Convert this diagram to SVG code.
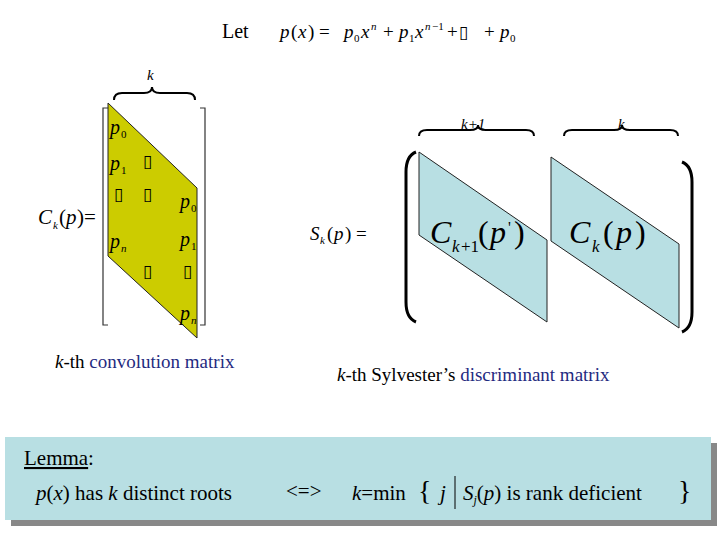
<svg xmlns="http://www.w3.org/2000/svg" width="720" height="540" viewBox="0 0 720 540">
<style>
text{font-family:"Liberation Serif",serif;fill:#000}
.i{font-style:italic}
.br{fill:none;stroke:#000;stroke-width:2}
.bk{fill:none;stroke:#333;stroke-width:1.2}
.b{fill:#000;font-size:14px}
</style>
<rect width="720" height="540" fill="#fff"/>
<g id="title">
<text x="222" y="38" font-size="20">Let</text>
<text x="280" y="38" font-size="19" class="i">p</text><text x="291" y="38" font-size="19">(</text><text x="298" y="38" font-size="19" class="i">x</text><text x="308" y="38" font-size="19">) = </text>
<text x="344" y="38" font-size="19" class="i">p</text><text x="354" y="42" font-size="11">0</text><text x="361" y="38" font-size="19" class="i">x</text><text x="371" y="30" font-size="11" class="i">n</text>
<text x="383" y="38" font-size="19">+ </text><text x="399" y="38" font-size="19" class="i">p</text><text x="409" y="42" font-size="11">1</text><text x="415" y="38" font-size="19" class="i">x</text><text x="425" y="30" font-size="11" class="i">n</text><text x="432" y="30" font-size="11">−1</text>
<text x="447" y="38" font-size="19">+</text><text x="459" y="38" font-size="17">▯</text>
<text x="484" y="38" font-size="19">+ </text><text x="500" y="38" font-size="19" class="i">p</text><text x="510" y="42" font-size="11">0</text>
</g>
<g id="conv-matrix">
<text x="147" y="80" font-size="15" class="i">k</text>
<path class="br" d="M114,100 q0,-7 8,-7 h22 q8,0 8,-6 q0,6 8,6 h27 q8,0 8,7"/>
<polygon points="108,103 197,188 197,338 108,256" fill="#cccc00" stroke="#222" stroke-width="1"/>
<path class="bk" d="M108,108 h-5 v217 h5 M200,108 h5 v217 h-5"/>
<g font-size="20" class="i">
<text x="110" y="134">p</text><text x="110" y="170">p</text><text x="110" y="248">p</text>
<text x="180" y="208">p</text><text x="180" y="246">p</text><text x="180" y="320">p</text>
</g>
<g font-size="11">
<text x="121" y="138">0</text><text x="121" y="174">1</text><text x="121" y="252" class="i">n</text>
<text x="191" y="212">0</text><text x="191" y="250">1</text><text x="191" y="324" class="i">n</text>
</g>
<g font-size="17"><text x="143" y="167">▯</text><text x="114" y="200">▯</text><text x="143" y="200">▯</text><text x="143" y="277">▯</text><text x="183" y="277">▯</text></g>
<text x="38" y="224" font-size="21" class="i">C</text><text x="53" y="229" font-size="11" class="i">k</text><text x="59" y="224" font-size="21">(</text><text x="66" y="224" font-size="21" class="i">p</text><text x="77" y="224" font-size="21">)=</text>
<text x="55" y="368" font-size="19"><tspan class="i">k</tspan>-th <tspan fill="#1a237e" style="fill:#1f2a80">convolution matrix</tspan></text>
</g>
<g id="sylv-matrix">
<text x="461" y="129" font-size="15" class="i">k+1</text>
<path class="br" d="M419,136 q0,-6 8,-6 h43 q8,0 8,-5 q0,5 8,5 h40 q8,0 8,6"/>
<text x="618" y="129" font-size="15" class="i">k</text>
<path class="br" d="M564,136 q0,-6 8,-6 h42 q8,0 8,-5 q0,5 8,5 h40 q8,0 8,6"/>
<polygon points="419,152 547,240 547,322 419,235" fill="#b8dfe3" stroke="#222" stroke-width="1"/>
<polygon points="551,157 679,244 679,328 551,241" fill="#b8dfe3" stroke="#222" stroke-width="1"/>
<path d="M416,152 q-10,4 -10,20 v130 q0,16 10,20" fill="none" stroke="#000" stroke-width="3"/>
<path d="M682,162 q10,4 10,20 v130 q0,16 -10,20" fill="none" stroke="#000" stroke-width="3"/>
<text x="430" y="243" font-size="32" class="i">C</text><text x="452" y="252" font-size="17" class="i">k</text><text x="461" y="252" font-size="17">+1</text><text x="478" y="243" font-size="32">(</text><text x="490" y="243" font-size="32" class="i">p</text><text x="508" y="233" font-size="16">'</text><text x="514" y="243" font-size="32">)</text>
<text x="569" y="243" font-size="32" class="i">C</text><text x="592" y="252" font-size="17" class="i">k</text><text x="603" y="243" font-size="32">(</text><text x="616" y="243" font-size="32" class="i">p</text><text x="635" y="243" font-size="32">)</text>
<text x="310" y="240" font-size="19" class="i">S</text><text x="320" y="244" font-size="11" class="i">k</text><text x="327" y="240" font-size="19">(</text><text x="334" y="240" font-size="19" class="i">p</text><text x="345" y="240" font-size="19">) =</text>
<text x="337" y="381" font-size="19"><tspan class="i">k</tspan>-th Sylvester’s <tspan style="fill:#1f2a80">discriminant matrix</tspan></text>
</g>
<g id="lemma">
<rect x="11" y="443" width="706" height="83" fill="#888"/>
<rect x="5" y="437" width="706" height="83" fill="#b8dfe3"/>
<text x="24" y="465" font-size="21" text-decoration="underline">Lemma</text><text x="88" y="465" font-size="21">:</text>
<text x="36" y="500" font-size="21"><tspan class="i">p</tspan>(<tspan class="i">x</tspan>) has <tspan class="i">k</tspan> distinct roots</text>
<text x="286" y="498" font-size="21">&lt;=&gt;</text>
<text x="352" y="500" font-size="21"><tspan class="i">k</tspan>=min</text>
<text x="418" y="500" font-size="28">{</text>
<text x="440" y="500" font-size="21" class="i">j</text>
<line x1="455" y1="476" x2="455" y2="509" stroke="#000" stroke-width="1"/>
<text x="463" y="500" font-size="21"><tspan class="i">S</tspan><tspan class="i" font-size="12" dy="4">j</tspan><tspan dy="-4">(</tspan><tspan class="i">p</tspan>) is rank deficient</text>
<text x="678" y="500" font-size="28">}</text>
</g>
</svg>
